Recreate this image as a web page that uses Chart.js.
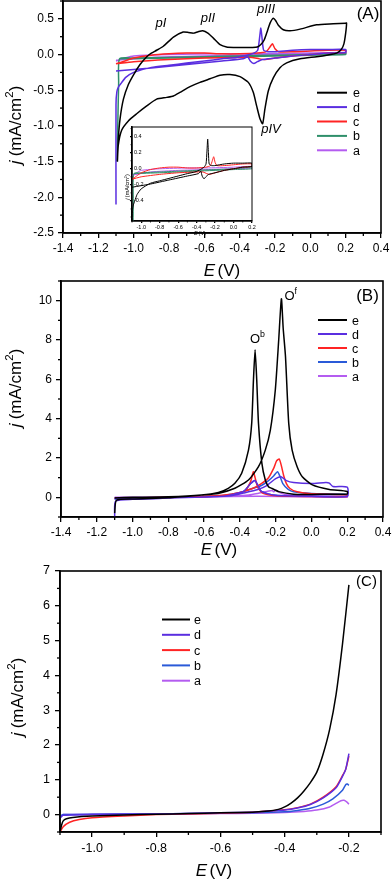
<!DOCTYPE html>
<html>
<head>
<meta charset="utf-8">
<script src="https://cdn.jsdelivr.net/npm/chart.js@4.4.0/dist/chart.umd.min.js"></script>
<style>
  body { margin: 0; background: #fff; width: 392px; height: 879px; position: relative; overflow: hidden; }
  canvas { position: absolute; }
</style>
</head>
<body>
<canvas id="chartA" width="392" height="280" style="left:0;top:0"></canvas>
<canvas id="chartInset" width="146" height="120" style="left:112px;top:118px"></canvas>
<canvas id="chartB" width="392" height="280" style="left:0;top:280px"></canvas>
<canvas id="chartC" width="392" height="319" style="left:0;top:560px"></canvas>
<script>
const FAMILY = '"Liberation Sans", Arial, sans-serif';

// ---- panel A : cyclic voltammograms ----
const eA_E = [-1.092,-1.087,-1.077,-1.058,-1.03,-1.0,-0.964,-0.926,-0.9,-0.87,-0.832,-0.775,-0.72,-0.69,-0.662,-0.635,-0.609,-0.58,-0.549,-0.511,-0.474,-0.436,-0.38,-0.33,-0.3,-0.28,-0.262,-0.247,-0.228,-0.209,-0.195,-0.181,-0.153,-0.115,-0.058,0.036,0.13,0.2,
  0.205,0.2,0.19,0.175,0.149,0.1,0.036,-0.058,-0.134,-0.172,-0.209,-0.238,-0.257,-0.27,-0.285,-0.304,-0.323,-0.351,-0.398,-0.455,-0.511,-0.568,-0.625,-0.681,-0.738,-0.775,-0.813,-0.87,-0.926,-0.983,-1.03,-1.068,-1.087,-1.092];
const eA_J = [-1.5,-1.18,-0.9,-0.625,-0.42,-0.28,-0.14,-0.03,0.02,0.06,0.116,0.245,0.315,0.31,0.30,0.32,0.333,0.3,0.23,0.139,0.106,0.1,0.1,0.1,0.105,0.14,0.2,0.3,0.44,0.51,0.47,0.41,0.347,0.333,0.356,0.417,0.431,0.44,
  0.44,0.3,0.15,0.07,0.02,-0.005,-0.03,-0.06,-0.116,-0.185,-0.324,-0.51,-0.76,-0.97,-0.9,-0.72,-0.53,-0.39,-0.31,-0.28,-0.29,-0.34,-0.39,-0.45,-0.53,-0.58,-0.6,-0.625,-0.72,-0.83,-0.93,-1.06,-1.27,-1.5];
const dA_E = [-1.1,-1.1,-1.095,-1.085,-1.07,-1.045,-1.0,-0.9,-0.8,-0.7,-0.6,-0.5,-0.42,-0.36,-0.32,-0.298,-0.288,-0.28,-0.272,-0.264,-0.24,-0.2,-0.1,0,0.1,0.2,
  0.2,0.1,0,-0.1,-0.2,-0.27,-0.3,-0.32,-0.34,-0.355,-0.38,-0.5,-0.7,-0.9,-1.0,-1.1];
const dA_J = [-2.1,-0.7,-0.52,-0.45,-0.4,-0.32,-0.25,-0.18,-0.15,-0.12,-0.09,-0.06,-0.04,-0.01,0.02,0.06,0.22,0.37,0.2,0.06,0.04,0.04,0.06,0.07,0.07,0.07,
  0.03,0.02,0.0,-0.02,-0.05,-0.07,-0.1,-0.125,-0.09,-0.03,-0.06,-0.09,-0.14,-0.19,-0.21,-0.23];
const cA_E = [-1.1,-1.05,-1.0,-0.9,-0.8,-0.7,-0.6,-0.5,-0.4,-0.3,-0.25,-0.23,-0.215,-0.2,-0.18,-0.1,0,0.1,0.2,
  0.2,0.1,0,-0.1,-0.2,-0.26,-0.29,-0.33,-0.4,-0.6,-0.8,-1.0,-1.1];
const cA_J = [-0.13,-0.09,-0.05,-0.01,0.01,0.02,0.02,0.01,0.01,0.02,0.04,0.1,0.15,0.08,0.04,0.04,0.05,0.06,0.06,
  0.03,0.02,0.0,-0.02,-0.05,-0.07,-0.06,-0.04,-0.04,-0.05,-0.07,-0.1,-0.13];
const bA_E = [-1.094,-1.09,-1.085,-1.08,-1.0,-0.8,-0.6,-0.4,-0.2,0,0.2,0.2,0,-0.4,-0.8,-1.08];
const bA_J = [-1.5,-1.0,-0.4,-0.06,-0.05,-0.04,-0.03,-0.02,-0.01,0.0,0.02,0.0,-0.01,-0.03,-0.05,-0.06];
const aA_E = [-1.1,-1.05,-1.0,-0.8,-0.5,-0.3,0,0.2,0.2,0,-0.3,-0.6,-0.9,-1.1];
const aA_J = [-0.09,-0.05,-0.02,0.0,0.01,0.01,0.02,0.03,0.01,0.0,-0.01,-0.02,-0.04,-0.08];
const A_xTicks = [-1.4,-1.2,-1.0,-0.8,-0.6,-0.4,-0.2,0.0,0.2,0.4];
const A_yTicks = [-2.5,-2.0,-1.5,-1.0,-0.5,0.0,0.5];
const inset_xTicks = [-1.0,-0.8,-0.6,-0.4,-0.2,0.0,0.2];
const inset_yTicks = [-0.4,-0.2,0.0,0.2,0.4];

// ---- panel B ----
const eB_E = [-1.1,-1.09,-1.0,-0.8,-0.616,-0.522,-0.428,-0.352,-0.296,-0.258,-0.23,-0.202,-0.183,-0.168,-0.158,-0.145,-0.127,-0.108,-0.08,-0.051,0.005,0.1,0.2,
  0.2,0.1,0,-0.1,-0.183,-0.22,-0.24,-0.258,-0.277,-0.296,-0.306,-0.315,-0.324,-0.334,-0.352,-0.39,-0.428,-0.465,-0.52,-0.616,-0.8,-1.0,-1.1];
const eB_J = [-0.8,-0.15,-0.08,-0.02,0.12,0.2,0.46,0.88,1.56,2.4,3.4,5.46,8.0,10.1,8.6,7.15,3.76,2.4,1.56,1.05,0.63,0.4,0.3,
  0.17,0.16,0.15,0.16,0.29,0.45,0.54,0.88,1.73,3.76,6.0,7.5,6.0,3.76,2.4,1.22,0.71,0.46,0.25,0.12,0.03,0.0,-0.03];
const dB_E = [-1.1,-1.095,-1.0,-0.8,-0.6,-0.45,-0.38,-0.3,-0.25,-0.2,-0.17,-0.14,-0.1,0,0.08,0.1,0.12,0.2,
  0.2,0,-0.2,-0.28,-0.315,-0.34,-0.38,-0.5,-0.8,-1.1];
const dB_J = [-1.0,-0.2,-0.1,-0.04,0.02,0.08,0.22,0.4,0.6,0.95,1.05,0.85,0.75,0.7,0.75,0.72,0.55,0.52,
  0.05,0.05,0.1,0.3,0.85,0.7,0.3,0.05,-0.02,-0.05];
const cB_E = [-1.1,-0.8,-0.6,-0.5,-0.4,-0.33,-0.28,-0.24,-0.21,-0.195,-0.18,-0.168,-0.155,-0.14,-0.12,-0.08,0,0.2,
  0.2,0,-0.2,-0.27,-0.3,-0.315,-0.325,-0.34,-0.37,-0.42,-0.6,-1.1];
const cB_J = [-0.05,0.0,0.05,0.1,0.25,0.45,0.7,1.0,1.5,1.85,1.95,1.6,1.1,0.7,0.45,0.28,0.18,0.12,
  0.04,0.04,0.08,0.2,0.5,1.0,1.3,0.8,0.35,0.15,0.03,-0.03];
const bB_E = [-1.1,-0.8,-0.6,-0.5,-0.4,-0.33,-0.28,-0.24,-0.21,-0.19,-0.175,-0.16,-0.13,-0.1,0,0.2,
  0.2,0,-0.2,-0.28,-0.315,-0.34,-0.38,-0.5,-0.8,-1.1];
const bB_J = [-0.08,-0.01,0.04,0.08,0.25,0.45,0.6,0.85,1.1,1.3,1.05,0.7,0.4,0.28,0.2,0.15,
  0.05,0.05,0.1,0.3,0.85,0.7,0.3,0.08,0.0,-0.05];
const aB_E = [-1.1,-0.8,-0.5,-0.35,-0.3,-0.25,-0.22,-0.21,-0.2,-0.18,-0.15,-0.1,0,0.2,
  0.2,-0.3,-0.6,-1.1];
const aB_J = [-0.1,0.0,0.05,0.12,0.2,0.3,0.35,0.28,0.37,0.25,0.15,0.12,0.08,0.05,
  0.0,0.05,0.02,0.0];
const B_xTicks = [-1.4,-1.2,-1.0,-0.8,-0.6,-0.4,-0.2,0.0,0.2,0.4];
const B_yTicks = [0,2,4,6,8,10];

// ---- panel C : linear sweeps ----
const eC_E = [-1.1,-1.095,-1.09,-1.08,-1.06,-1.0,-0.9,-0.8,-0.7,-0.6,-0.5,-0.45,-0.42,-0.4,-0.38,-0.36,-0.34,-0.32,-0.3,-0.28,-0.26,-0.24,-0.22,-0.2];
const eC_J = [-0.5,-0.3,-0.18,-0.12,-0.08,-0.04,-0.01,0.01,0.03,0.05,0.07,0.1,0.15,0.22,0.33,0.48,0.68,0.92,1.22,1.75,2.45,3.45,4.9,6.6];
const dC_E = [-1.1,-1.09,-1.0,-0.8,-0.6,-0.5,-0.45,-0.4,-0.36,-0.32,-0.28,-0.24,-0.22,-0.21,-0.2];
const dC_J = [-0.1,-0.02,0.0,0.02,0.05,0.07,0.1,0.13,0.19,0.29,0.48,0.77,1.1,1.3,1.75];
const cC_E = [-1.1,-1.09,-1.07,-1.04,-1.0,-0.9,-0.8,-0.6,-0.5,-0.4,-0.36,-0.32,-0.28,-0.24,-0.22,-0.21,-0.2];
const cC_J = [-0.5,-0.35,-0.22,-0.14,-0.09,-0.04,0.0,0.04,0.07,0.14,0.2,0.3,0.5,0.8,1.12,1.3,1.68];
const bC_E = [-1.1,-1.09,-0.8,-0.6,-0.5,-0.4,-0.36,-0.32,-0.28,-0.25,-0.22,-0.21,-0.205,-0.2];
const bC_J = [-0.05,0.0,0.02,0.04,0.05,0.08,0.12,0.18,0.3,0.45,0.7,0.86,0.88,0.84];
const aC_E = [-1.1,-1.09,-0.8,-0.6,-0.5,-0.4,-0.34,-0.3,-0.26,-0.24,-0.225,-0.215,-0.205,-0.2];
const aC_J = [-0.1,0.0,0.02,0.03,0.04,0.06,0.09,0.13,0.22,0.32,0.4,0.41,0.35,0.3];
const C_xTicks = [-1.0,-0.8,-0.6,-0.4,-0.2];
const C_yTicks = [0,1,2,3,4,5,6,7];

const colors = { e: '#000000', d: '#5a2ee0', c: '#ff2424', bGreen: '#2f8f6a', bBlue: '#2a5ad8', a: '#b45cf0' };

function pts(E, J) {
  return E.map((x, i) => ({ x: x, y: J[i] }));
}

function curve(label, E, J, color, w) {
  return {
    label: label, data: pts(E, J),
    borderColor: color, backgroundColor: color,
    borderWidth: w || 1.5, showLine: true, pointRadius: 0,
    tension: 0.2, fill: false
  };
}

// rich text: parts = [{t, it, sup}]
function drawRich(ctx, item) {
  const size = item.size;
  const fontOf = p => (p.it ? 'italic ' : '') + (p.sup ? size * 0.68 : size) + 'px ' + FAMILY;
  let total = 0;
  const widths = item.parts.map(p => {
    ctx.font = fontOf(p);
    const w = ctx.measureText(p.t).width + (p.gap || 0);
    total += w;
    return w;
  });
  ctx.save();
  ctx.translate(item.x, item.y);
  if (item.rot) ctx.rotate(item.rot);
  ctx.fillStyle = '#000';
  ctx.textBaseline = 'alphabetic';
  ctx.textAlign = 'left';
  let x = item.align === 'left' ? 0 : -total / 2;
  const base = size * 0.36;
  item.parts.forEach((p, i) => {
    ctx.font = fontOf(p);
    ctx.fillText(p.t, x, p.sup ? base - size * 0.45 : base);
    x += widths[i];
  });
  ctx.restore();
}

const decor = {
  id: 'decor',
  beforeDraw(chart, args, o) {
    if (!o.fillArea) return;
    const ctx = chart.ctx, ca = chart.chartArea;
    ctx.save();
    ctx.fillStyle = '#fff';
    ctx.fillRect(ca.left, ca.top, ca.right - ca.left, ca.bottom - ca.top);
    ctx.restore();
  },
  afterDraw(chart, args, o) {
    const ctx = chart.ctx, ca = chart.chartArea;
    ctx.save();
    ctx.strokeStyle = '#000';
    ctx.lineWidth = o.frame;
    ctx.strokeRect(ca.left, ca.top, ca.right - ca.left, ca.bottom - ca.top);

    // minor ticks between the labelled ones
    ctx.lineWidth = o.tickWidth;
    ['x', 'y'].forEach(id => {
      const s = chart.scales[id];
      const step = o.minor[id];
      for (let k = Math.ceil(s.min / step - 1e-6); k * step <= s.max + 1e-6; k++) {
        const v = k * step;
        if (s.ticks.some(t => Math.abs(t.value - v) < step / 10)) continue;
        const p = s.getPixelForValue(v);
        ctx.beginPath();
        if (id === 'x') { ctx.moveTo(p, ca.bottom); ctx.lineTo(p, ca.bottom + o.minorLen); }
        else { ctx.moveTo(ca.left, p); ctx.lineTo(ca.left - o.minorLen, p); }
        ctx.stroke();
      }
    });

    // legend
    if (o.legend) {
      const L = o.legend;
      chart.data.datasets.forEach((ds, i) => {
        const y = L.y0 + i * L.dy;
        ctx.strokeStyle = ds.borderColor;
        ctx.lineWidth = 2;
        ctx.beginPath(); ctx.moveTo(L.x1, y); ctx.lineTo(L.x2, y); ctx.stroke();
        drawRich(ctx, { parts: [{ t: ds.label }], x: L.tx, y: y, size: L.size, align: 'left' });
      });
    }
    (o.texts || []).forEach(t => drawRich(ctx, t));
    ctx.restore();
  }
};
Chart.register(decor);

function fmt(v, dec) {
  return Math.abs(v) < 1e-9 ? (0).toFixed(dec) : v.toFixed(dec);
}

function scale(min, max, ticks, dec, size, fit, tl, pad, mirror) {
  return {
    type: 'linear', min: min, max: max,
    afterBuildTicks: s => { s.ticks = ticks.map(v => ({ value: v })); },
    afterFit: fit,
    ticks: { autoSkip: false, maxRotation: 0, padding: pad, color: '#000', mirror: !!mirror,
      font: { size: size, family: FAMILY }, callback: v => fmt(v, dec) },
    grid: { drawOnChartArea: false, color: '#000', lineWidth: 1.3, tickLength: tl },
    border: { color: '#000', width: 1.6 }
  };
}

function fitX(h) { return s => { s.height = h; s.paddingLeft = 0; s.paddingRight = 0; }; }
function fitY(w) { return s => { s.width = w; s.paddingTop = 0; s.paddingBottom = 0; }; }

const jTitle = size => [{ t: 'j', it: true, gap: size * 0.25 }, { t: '(mA/cm' }, { t: '2', sup: true }, { t: ')' }];
const eTitle = size => [{ t: 'E', it: true, gap: size * 0.15 }, { t: '(V)' }];

function baseOptions(padding, scales, decorOpts) {
  return {
    responsive: false, animation: false, events: [],
    layout: { padding: padding },
    scales: scales,
    plugins: { legend: { display: false }, tooltip: { enabled: false }, decor: decorOpts }
  };
}

// ---- chart A ----
new Chart(document.getElementById('chartA'), {
  type: 'scatter',
  data: { datasets: [
    curve('e', eA_E, eA_J, colors.e),
    curve('d', dA_E, dA_J, colors.d),
    curve('c', cA_E, cA_J, colors.c),
    curve('b', bA_E, bA_J, colors.bGreen),
    curve('a', aA_E, aA_J, colors.a)
  ] },
  options: baseOptions({ left: 0, right: 11, top: 1, bottom: 0 }, {
    x: scale(-1.4, 0.4, A_xTicks, 1, 12, fitX(47), 5, 3),
    y: scale(-2.5, 0.75, A_yTicks, 1, 12, fitY(63), 5, 4)
  }, {
    frame: 1.6, tickWidth: 1.3, minorLen: 3, minor: { x: 0.1, y: 0.25 },
    legend: { x1: 317, x2: 347, tx: 353, y0: 92.7, dy: 14.4, size: 12.5 },
    texts: [
      { parts: jTitle(17), x: 15, y: 125, size: 17, rot: -Math.PI / 2 },
      { parts: eTitle(17), x: 222, y: 270, size: 17 },
      { parts: [{ t: '(A)' }], x: 368, y: 13, size: 17 },
      { parts: [{ t: 'pI', it: true }], x: 161, y: 22.5, size: 13 },
      { parts: [{ t: 'pII', it: true }], x: 208, y: 17.5, size: 13 },
      { parts: [{ t: 'pIII', it: true }], x: 266, y: 8.5, size: 13 },
      { parts: [{ t: 'pIV', it: true }], x: 271, y: 128, size: 13 }
    ]
  })
});

// ---- inset of A (y labels drawn inside the frame) ----
new Chart(document.getElementById('chartInset'), {
  type: 'scatter',
  data: { datasets: [
    curve('d', dA_E, dA_J, colors.e, 1),
    curve('c', cA_E, cA_J, colors.c, 1),
    curve('b', bA_E, bA_J, colors.bGreen, 1),
    curve('a', aA_E, aA_J, colors.a, 1)
  ] },
  options: baseOptions({ left: 0, right: 6, top: 9, bottom: 0 }, {
    x: scale(-1.1, 0.2, inset_xTicks, 1, 5.5, fitX(17), 2, 1),
    y: scale(-0.65, 0.52, inset_yTicks, 1, 5.5, fitY(20), 2, 2, true)
  }, {
    fillArea: true, frame: 1, tickWidth: 0.8, minorLen: 1.5, minor: { x: 0.1, y: 0.1 },
    texts: [
      { parts: jTitle(5.5), x: 15, y: 69, size: 5.5, rot: -Math.PI / 2 },
      { parts: eTitle(5.5), x: 88, y: 115, size: 5.5 }
    ]
  })
});

// ---- chart B ----
new Chart(document.getElementById('chartB'), {
  type: 'scatter',
  data: { datasets: [
    curve('e', eB_E, eB_J, colors.e),
    curve('d', dB_E, dB_J, colors.d),
    curve('c', cB_E, cB_J, colors.c),
    curve('b', bB_E, bB_J, colors.bBlue),
    curve('a', aB_E, aB_J, colors.a)
  ] },
  options: baseOptions({ left: 0, right: 9, top: 1, bottom: 0 }, {
    x: scale(-1.4, 0.4, B_xTicks, 1, 12, fitX(43), 5, 3),
    y: scale(-1, 11, B_yTicks, 0, 12, fitY(61), 5, 4)
  }, {
    frame: 1.6, tickWidth: 1.3, minorLen: 3, minor: { x: 0.1, y: 1 },
    legend: { x1: 318, x2: 347, tx: 352, y0: 40, dy: 14, size: 12.5 },
    texts: [
      { parts: jTitle(17), x: 15, y: 108, size: 17, rot: -Math.PI / 2 },
      { parts: eTitle(17), x: 219, y: 269, size: 17 },
      { parts: [{ t: '(B)' }], x: 367.5, y: 15, size: 17 },
      { parts: [{ t: 'O' }, { t: 'b', sup: true }], x: 250, y: 58, size: 13, align: 'left' },
      { parts: [{ t: 'O' }, { t: 'f', sup: true }], x: 284.5, y: 15.5, size: 13, align: 'left' }
    ]
  })
});

// ---- chart C ----
new Chart(document.getElementById('chartC'), {
  type: 'scatter',
  data: { datasets: [
    curve('e', eC_E, eC_J, colors.e),
    curve('d', dC_E, dC_J, colors.d),
    curve('c', cC_E, cC_J, colors.c),
    curve('b', bC_E, bC_J, colors.bBlue),
    curve('a', aC_E, aC_J, colors.a)
  ] },
  options: baseOptions({ left: 0, right: 11, top: 11, bottom: 0 }, {
    x: scale(-1.1, -0.1, C_xTicks, 1, 12.5, fitX(47), 5, 4),
    y: scale(-0.5, 7, C_yTicks, 0, 12.5, fitY(60), 5, 5)
  }, {
    frame: 1.6, tickWidth: 1.3, minorLen: 3, minor: { x: 0.1, y: 0.5 },
    legend: { x1: 162, x2: 190, tx: 194, y0: 59.5, dy: 15.3, size: 12.5 },
    texts: [
      { parts: jTitle(17), x: 16.5, y: 137, size: 17, rot: -Math.PI / 2 },
      { parts: eTitle(17), x: 214, y: 310, size: 17 },
      { parts: [{ t: '(C)' }], x: 366.5, y: 21, size: 15 }
    ]
  })
});
</script>
</body>
</html>
